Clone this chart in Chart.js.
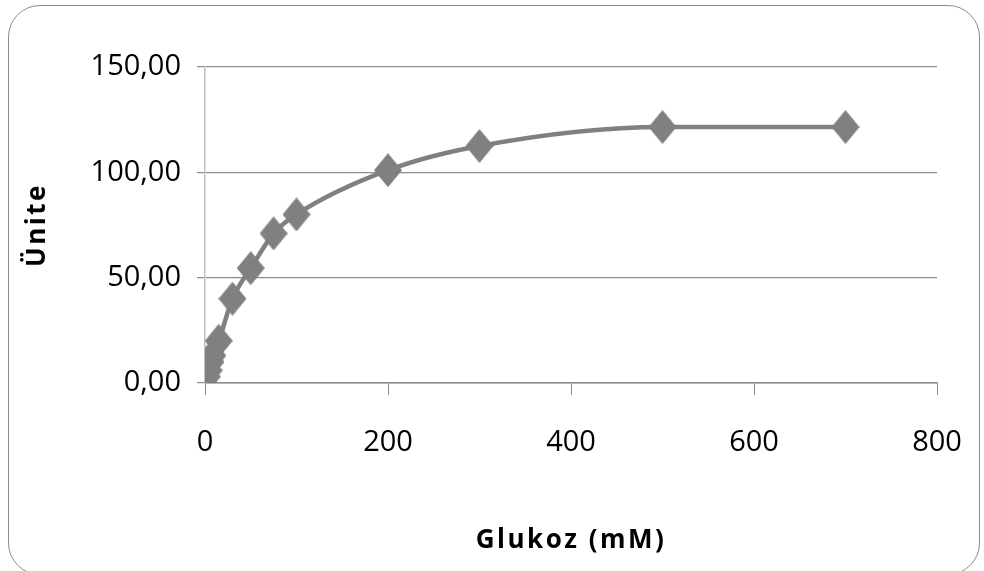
<!DOCTYPE html>
<html>
<head>
<meta charset="utf-8">
<script src="https://cdn.jsdelivr.net/npm/chart.js@4"></script>
<style>
  html, body { margin: 0; padding: 0; background: #fff; overflow: hidden; }
  #wrap { position: relative; width: 984px; height: 571px; }
  #frame {
    position: absolute; left: 8px; top: 5px; width: 972px; height: 570px;
    border: 1.5px solid #8c8c8c; border-radius: 32px; box-sizing: border-box;
  }
  canvas { position: absolute; left: 0; top: 0; }
</style>
</head>
<body>
<div id="wrap">
  <div id="frame"></div>
  <canvas id="chart" width="984" height="571"></canvas>
</div>
<script>
// Glukoz (mM) vs Ünite
const glukoz = [2, 4, 6, 8, 15, 30, 50, 75, 100, 200, 300, 500, 700];
const unite = [3, 6, 10, 13, 20, 40, 54.5, 71, 80, 101, 112.5, 121.5, 121.5];
const xTicks = [0, 200, 400, 600, 800];
const yTicks = [0, 50, 100, 150];

// diamond marker, a bit taller than wide like the original
function diamond(w, h, color) {
    const c = document.createElement('canvas');
    c.width = w; c.height = h;
    const g = c.getContext('2d');
    g.fillStyle = color;
    g.beginPath();
    g.moveTo(w / 2, 0);
    g.lineTo(w, h / 2);
    g.lineTo(w / 2, h);
    g.lineTo(0, h / 2);
    g.closePath();
    g.fill();
    return c;
}

// axis titles in the original are letter-spaced
const spacedTitles = {
    id: 'spacedTitles',
    beforeDraw(chart) {
        Object.values(chart.scales).forEach(s => {
            if (s._spaced) return;
            const orig = s.drawTitle;
            s.drawTitle = function () {
                const ctx = this.ctx;
                ctx.save();
                ctx.letterSpacing = '2.5px';
                orig.apply(this, arguments);
                ctx.restore();
            };
            s._spaced = true;
        });
    }
};

const gray = '#808080';
const marker = diamond(28, 34, gray);
const tickFont = {family: 'Open Sans', size: 29};
const titleFont = {family: 'Open Sans', size: 26, weight: 'bold'};

new Chart(document.getElementById('chart').getContext('2d'), {
    type: 'scatter',
    data: {
        datasets: [{
            label: 'Ünite',
            data: glukoz.map((x, i) => ({x: x, y: unite[i]})),
            showLine: true,
            borderColor: gray,
            borderWidth: 4.5,
            backgroundColor: gray,
            cubicInterpolationMode: 'monotone',
            pointStyle: marker,
            pointRadius: 14,
            pointHoverRadius: 14,
        }]
    },
    plugins: [spacedTitles],
    options: {
        responsive: false,
        animation: false,
        layout: {padding: {top: 67, right: 47, left: 0, bottom: 0}},
        plugins: {
            legend: {display: false},
            tooltip: {enabled: false},
        },
        scales: {
            x: {
                type: 'linear',
                min: 0,
                max: 800,
                afterBuildTicks: (s) => { s.ticks = xTicks.map(v => ({value: v})); },
                afterFit: (s) => { s.height = 188; s.paddingLeft = 0; s.paddingRight = 0; },
                grid: {drawOnChartArea: false, drawTicks: true, tickLength: 12, color: '#8c8c8c'},
                border: {color: '#8c8c8c', width: 1.5},
                ticks: {font: tickFont, color: '#000', padding: 30, maxRotation: 0},
                title: {display: true, text: 'Glukoz (mM)', font: titleFont, color: '#000', padding: {top: 0, bottom: 15}},
            },
            y: {
                min: 0,
                max: 150,
                afterBuildTicks: (s) => { s.ticks = yTicks.map(v => ({value: v})); },
                afterFit: (s) => { s.width = 205; },
                grid: {color: '#8c8c8c', lineWidth: 1.2, tickLength: 8},
                border: {color: '#bfbfbf', width: 1.5},
                ticks: {
                    font: tickFont, color: '#000', padding: 16,
                    callback: (v) => v.toFixed(2).replace('.', ','),
                },
                title: {display: true, text: 'Ünite', font: titleFont, color: '#000', padding: {top: 22, bottom: 0}},
            }
        }
    }
});
</script>
</body>
</html>
